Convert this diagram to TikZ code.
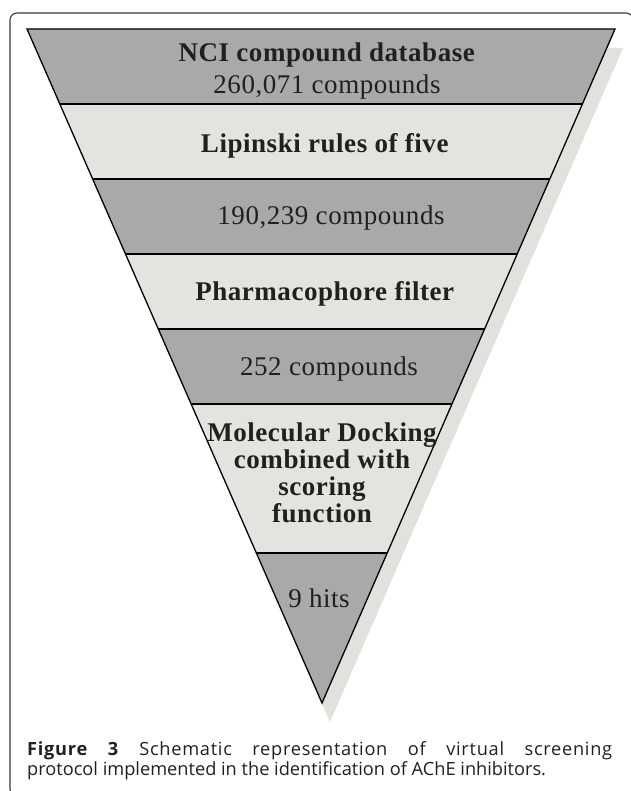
\documentclass[tikz,border=0pt]{standalone}
\usepackage{fontspec}
\usepackage{xcolor}
\usetikzlibrary{calc}
\newfontfamily\funnelfont{Liberation Serif}[LetterSpace=2]
\newfontfamily\captionfont{Open Sans}
\newfontfamily\captionwide{Open Sans}[LetterSpace=4]
\definecolor{darkband}{HTML}{A9A9A9}
\definecolor{lightband}{HTML}{E3E3DF}
\definecolor{shadowgrey}{HTML}{E1E2DD}
\definecolor{framegrey}{HTML}{3A3A3A}
\definecolor{inkgrey}{HTML}{231F20}

\begin{document}
\begin{tikzpicture}[x=1pt, y=-1pt,
    band/.style={draw=black, line width=1.3pt, line join=miter},
    lbl/.style={inner sep=0pt, anchor=base, align=center, text=inkgrey,
      font=\funnelfont\fontsize{27}{32}\selectfont}]

  \useasboundingbox (0,0) rectangle (630,791);

  % --- Frame ---
  \draw[framegrey, line width=1.1pt, rounded corners=7pt] (10,13) rectangle (633,796);

  % --- Funnel corners ---
  \coordinate (tl) at (27,29);
  \coordinate (tr) at (615,29);
  \coordinate (tip) at (322,703);

  % --- Drop shadow ---
  \fill[shadowgrey] ($(tl)+(8,19)$) -- ($(tr)+(8,19)$) -- ($(tip)+(8,19)$) -- cycle;

  % --- Bands (fractions of the funnel height) ---
  \foreach \a/\b/\col in {0/0.11128/darkband, 0.11128/0.22255/lightband,
      0.22255/0.33383/darkband, 0.33383/0.44510/lightband,
      0.44510/0.55638/darkband, 0.55638/0.77745/lightband,
      0.77745/1/darkband} {
    \fill[\col] ($(tl)!\a!(tip)$) -- ($(tr)!\a!(tip)$)
      -- ($(tr)!\b!(tip)$) -- ($(tl)!\b!(tip)$) -- cycle;
  }

  % --- Outline and separators ---
  \draw[band] (tl) -- (tr) -- (tip) -- cycle;
  \foreach \t in {0.11128, 0.22255, 0.33383, 0.44510, 0.55638, 0.77745}
    \draw[band] ($(tl)!\t!(tip)$) -- ($(tr)!\t!(tip)$);

  % --- Band labels (base = last line) ---
  \node[lbl] (nci) at (327,94) {\textbf{NCI compound database}\\260,071 compounds};
  \node[lbl] (lipinski) at (325,153) {\textbf{Lipinski rules of five}};
  \node[lbl] (lipinskiHits) at (331,225) {190,239 compounds};
  \node[lbl] (pharma) at (325,300) {\textbf{Pharmacophore filter}};
  \node[lbl] (pharmaHits) at (329,375) {252 compounds};
  \node[lbl, font=\funnelfont\fontsize{27}{26.7}\selectfont\bfseries] (docking) at (322,522)
    {Molecular Docking\\combined with\\scoring\\function};
  \node[lbl] (hits) at (319,607) {9 hits};

  % --- Caption ---
  \node[anchor=base west, inner sep=0pt, text=inkgrey] (caption) at (27,755)
    {\parbox[t]{585pt}{\fontsize{18.2}{20}\selectfont
      {\captionwide\textbf{Figure 3} Schematic representation of virtual screening}\linebreak
      {\captionfont protocol implemented in the identification of AChE inhibitors.}}};

\end{tikzpicture}
\end{document}
